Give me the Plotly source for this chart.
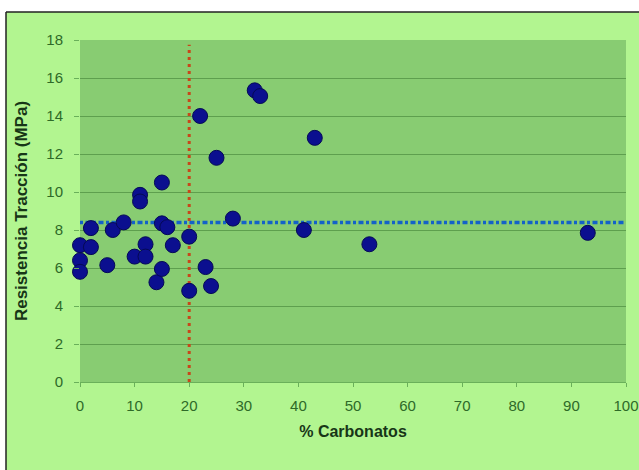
import plotly.graph_objects as go

carbonatos = [0, 0, 0, 2, 2, 5, 6, 8, 10, 11, 11, 12, 12, 14, 15, 15, 15, 16, 17,
              20, 20, 22, 23, 24, 25, 28, 32, 33, 41, 43, 53, 93]
resistencia = [7.2, 6.4, 5.8, 8.1, 7.1, 6.15, 8.0, 8.4, 6.6, 9.85, 9.5, 7.25, 6.6, 5.25, 10.5, 8.35, 5.95, 8.15, 7.2,
               7.65, 4.8, 14.0, 6.05, 5.05, 11.8, 8.6, 15.35, 15.05, 8.0, 12.85, 7.25, 7.85]
media_resistencia = 8.4
umbral_carbonatos = 20

x_ticks = list(range(0, 101, 10))
y_ticks = list(range(0, 19, 2))

W, H = 639, 470
L, R, T, B = 80, 13, 40, 88
PW, PH = W - L - R, H - T - B
FRAME_X, FRAME_Y = 6, 12   # outer frame position in pixels

fig = go.Figure()

# horizontal mean line
fig.add_trace(go.Scatter(
    x=[0, 100.6], y=[media_resistencia, media_resistencia], mode="lines",
    line=dict(color="#1462c8", width=3.5, dash="3px,2.5px,5px,2.5px"),
    hoverinfo="skip", cliponaxis=False))
# vertical threshold line
fig.add_trace(go.Scatter(
    x=[umbral_carbonatos, umbral_carbonatos], y=[0, 17.75], mode="lines",
    line=dict(color="#c8461a", width=3, dash="3px,4px"), hoverinfo="skip", cliponaxis=False))

fig.add_trace(go.Scatter(
    x=carbonatos, y=resistencia, mode="markers",
    marker=dict(color="#0b0f8f", size=15, line=dict(color="#050a55", width=1)),
    cliponaxis=False))

top_frac = 1 + (T - FRAME_Y) / PH
left_frac = -(L - FRAME_X) / PW
x_min_frac, x_max_frac = -L / PW - 0.01, 1 + R / PW + 0.01
y_min_frac, y_max_frac = -B / PH - 0.01, 1 + T / PH + 0.01
# white strips outside the frame
fig.add_shape(type="rect", xref="paper", yref="paper", layer="above",
              x0=x_min_frac, x1=x_max_frac, y0=top_frac, y1=y_max_frac,
              fillcolor="white", line=dict(width=0))
fig.add_shape(type="rect", xref="paper", yref="paper", layer="above",
              x0=x_min_frac, x1=left_frac, y0=y_min_frac, y1=y_max_frac,
              fillcolor="white", line=dict(width=0))
# outer frame (left & top)
fig.add_shape(type="line", xref="paper", yref="paper",
              x0=left_frac, x1=x_max_frac, y0=top_frac, y1=top_frac,
              line=dict(color="#222222", width=1.5))
fig.add_shape(type="line", xref="paper", yref="paper",
              x0=left_frac, x1=left_frac, y0=top_frac, y1=y_min_frac,
              line=dict(color="#222222", width=1.5))

tick_font = dict(family="Liberation Sans, Arial", size=15, color="#2e6a28")
title_font = dict(family="Liberation Sans, Arial", size=16, color="#173617")

fig.update_layout(
    width=W, height=H,
    margin=dict(l=L, r=R, t=T, b=B),
    paper_bgcolor="#b2f590",
    plot_bgcolor="#88cc72",
    showlegend=False,
    xaxis=dict(range=[0, 100], tickvals=x_ticks, showgrid=False, zeroline=False,
               automargin=False,
               ticks="outside", ticklen=4, tickcolor="#6ab05a", showline=True,
               linecolor="#6ab05a", linewidth=1, tickfont=tick_font,
               ticklabelstandoff=6,
               title=dict(text="<b>% Carbonatos</b>", font=title_font, standoff=12)),
    yaxis=dict(range=[0, 18], tickvals=y_ticks, showgrid=True, gridcolor="#5e9f4e",
               automargin=False,
               gridwidth=1, zeroline=False, ticks="outside", ticklen=5,
               tickcolor="#6ab05a", showline=False, tickfont=tick_font,
               ticklabelstandoff=8,
               title=dict(text="<b>Resistencia Tracción (MPa)</b>",
                          font=dict(family="Liberation Sans, Arial", size=17, color="#173617"),
                          standoff=14)),
)

fig.write_html("out.html", config={"displayModeBar": False},
               post_script="document.body.style.margin='0';document.body.style.overflow='hidden';")
